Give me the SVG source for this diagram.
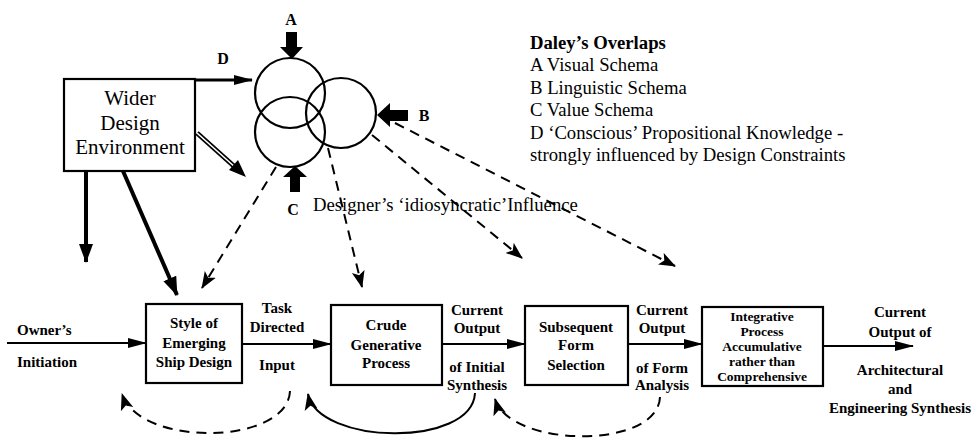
<svg xmlns="http://www.w3.org/2000/svg" width="975" height="439" viewBox="0 0 975 439" font-family="'Liberation Serif', 'Times New Roman', Times, 'DejaVu Serif', serif">
<defs>
<style>
text{font-family:'Liberation Serif','Times New Roman',Times,'DejaVu Serif',serif;fill:#000}
.lg{font-size:18.7px}
.lb{font-size:18.7px;font-weight:bold}
.big{font-size:21px;text-anchor:middle}
.sm{font-size:15px;font-weight:bold;text-anchor:middle}
.it{font-size:13.5px;font-weight:bold;text-anchor:middle}
.ltr{font-size:16px;font-weight:bold;text-anchor:middle}
.box{fill:#fff;stroke:#000;stroke-width:2.2}
.circ{fill:none;stroke:#000;stroke-width:2.2}
.ln{fill:none;stroke:#000;stroke-width:2}
.dash{fill:none;stroke:#000;stroke-width:2;stroke-dasharray:10 7}
.thick{fill:none;stroke:#000;stroke-width:4}
.blk{fill:#000;stroke:none}
</style>
<marker id="ah" markerUnits="userSpaceOnUse" markerWidth="20" markerHeight="12" refX="18" refY="6" orient="auto"><path d="M0,1 L19,6 L0,11 z" fill="#000"/></marker>
<marker id="ahd" markerUnits="userSpaceOnUse" markerWidth="18" markerHeight="14" refX="16" refY="7" orient="auto"><path d="M0,0.5 L17,7 L0,13.5 L4,7 z" fill="#000"/></marker>
<marker id="aht" markerUnits="userSpaceOnUse" markerWidth="20" markerHeight="16" refX="18" refY="8" orient="auto"><path d="M0,1 L19,8 L0,15 z" fill="#000"/></marker>
</defs>

<g id="connectors">
  <line class="ln" x1="195" y1="80" x2="252" y2="80" style="stroke-width:3" marker-end="url(#ah)"/>
  <line x1="197" y1="133" x2="236" y2="168" stroke="#000" stroke-width="5"/>
  <line x1="197" y1="133" x2="236" y2="168" stroke="#fff" stroke-width="1.6"/>
  <path class="blk" d="M246,177 L229,170 L238,160 z"/>
  <line class="thick" x1="86" y1="171" x2="86" y2="262" marker-end="url(#aht)"/>
  <line class="thick" x1="123" y1="171" x2="177" y2="295" marker-end="url(#aht)"/>
  <line class="dash" x1="276" y1="167" x2="202" y2="288" marker-end="url(#ahd)"/>
  <line class="dash" x1="328" y1="148" x2="362" y2="287" marker-end="url(#ahd)"/>
  <line class="dash" x1="372" y1="135" x2="522" y2="258" marker-end="url(#ahd)"/>
  <line class="dash" x1="395" y1="123" x2="675" y2="266" marker-end="url(#ahd)"/>
  <line class="ln" x1="7" y1="343" x2="146" y2="343" marker-end="url(#ah)"/>
  <line class="ln" x1="242" y1="344" x2="331" y2="344" marker-end="url(#ah)"/>
  <line class="ln" x1="442" y1="344" x2="525" y2="344" marker-end="url(#ah)"/>
  <line class="ln" x1="628" y1="344" x2="702" y2="344" marker-end="url(#ah)"/>
  <line class="ln" x1="823" y1="346" x2="913" y2="346" marker-end="url(#ah)"/>
  <path class="dash" d="M290,391 C288,445 140,448 122,394" marker-end="url(#ahd)"/>
  <path class="ln" d="M475,393 C472,448 318,445 308,394" marker-end="url(#ahd)"/>
  <path class="dash" d="M660,397 C658,450 510,448 495,399" marker-end="url(#ahd)"/>
</g>

<g id="overlaps">
  <circle class="circ" cx="290" cy="93" r="35"/>
  <circle class="circ" cx="290" cy="132" r="35"/>
  <circle class="circ" cx="341" cy="113" r="35"/>
  <path class="blk" d="M286,32 H297 V47 H303 L292,59 L280,47 H286 z"/>
  <text class="ltr" x="291" y="25">A</text>
  <path class="blk" d="M408,110 V121 H390 V127 L377,115 L390,103 V110 z"/>
  <text class="ltr" x="424" y="121">B</text>
  <path class="blk" d="M290,192 V177 H283 L295,166 L307,177 H300 V192 z"/>
  <text class="ltr" x="293" y="215">C</text>
  <text class="ltr" x="223" y="64">D</text>
</g>

<g id="wider">
  <rect class="box" x="64" y="79" width="131" height="92"/>
  <text class="big" x="130" y="105">Wider</text>
  <text class="big" x="130" y="130">Design</text>
  <text class="big" x="130" y="154">Environment</text>
</g>

<g id="legend">
  <text class="lb" x="530" y="49">Daley’s Overlaps</text>
  <text class="lg" x="530" y="71">A Visual Schema</text>
  <text class="lg" x="530" y="94">B Linguistic Schema</text>
  <text class="lg" x="530" y="116">C Value Schema</text>
  <text class="lg" x="530" y="139">D ‘Conscious’ Propositional Knowledge -</text>
  <text class="lg" x="530" y="161">strongly influenced by Design Constraints</text>
</g>

<g id="influence">
  <text class="lg" x="313" y="211">Designer’s ‘idiosyncratic’Influence</text>
</g>

<g id="owner">
  <text class="sm" x="17" y="335" style="text-anchor:start">Owner’s</text>
  <text class="sm" x="17" y="367" style="text-anchor:start">Initiation</text>
</g>

<g id="style">
  <rect class="box" x="146" y="304" width="96" height="79"/>
  <text class="sm" x="194" y="328">Style of</text>
  <text class="sm" x="194" y="348">Emerging</text>
  <text class="sm" x="194" y="367">Ship Design</text>
</g>

<g id="task">
  <text class="sm" x="277" y="313">Task</text>
  <text class="sm" x="277" y="332">Directed</text>
  <text class="sm" x="277" y="370">Input</text>
</g>

<g id="crude">
  <rect class="box" x="331" y="305" width="111" height="80"/>
  <text class="sm" x="386" y="330">Crude</text>
  <text class="sm" x="386" y="350">Generative</text>
  <text class="sm" x="386" y="368">Process</text>
</g>

<g id="out1">
  <text class="sm" x="477" y="315">Current</text>
  <text class="sm" x="477" y="333">Output</text>
  <text class="sm" x="477" y="372">of Initial</text>
  <text class="sm" x="477" y="390">Synthesis</text>
</g>

<g id="subsequent">
  <rect class="box" x="525" y="306" width="103" height="79"/>
  <text class="sm" x="576" y="332">Subsequent</text>
  <text class="sm" x="576" y="350">Form</text>
  <text class="sm" x="576" y="370">Selection</text>
</g>

<g id="out2">
  <text class="sm" x="662" y="315">Current</text>
  <text class="sm" x="662" y="333">Output</text>
  <text class="sm" x="662" y="373">of Form</text>
  <text class="sm" x="662" y="390">Analysis</text>
</g>

<g id="integrative">
  <rect class="box" x="702" y="307" width="121" height="79"/>
  <text class="it" x="762" y="321">Integrative</text>
  <text class="it" x="762" y="336">Process</text>
  <text class="it" x="762" y="351">Accumulative</text>
  <text class="it" x="762" y="366">rather than</text>
  <text class="it" x="762" y="381">Comprehensive</text>
</g>

<g id="out3">
  <text class="sm" x="900" y="317">Current</text>
  <text class="sm" x="900" y="337">Output of</text>
  <text class="sm" x="900" y="375">Architectural</text>
  <text class="sm" x="900" y="394">and</text>
  <text class="sm" x="900" y="413">Engineering Synthesis</text>
</g>
</svg>
